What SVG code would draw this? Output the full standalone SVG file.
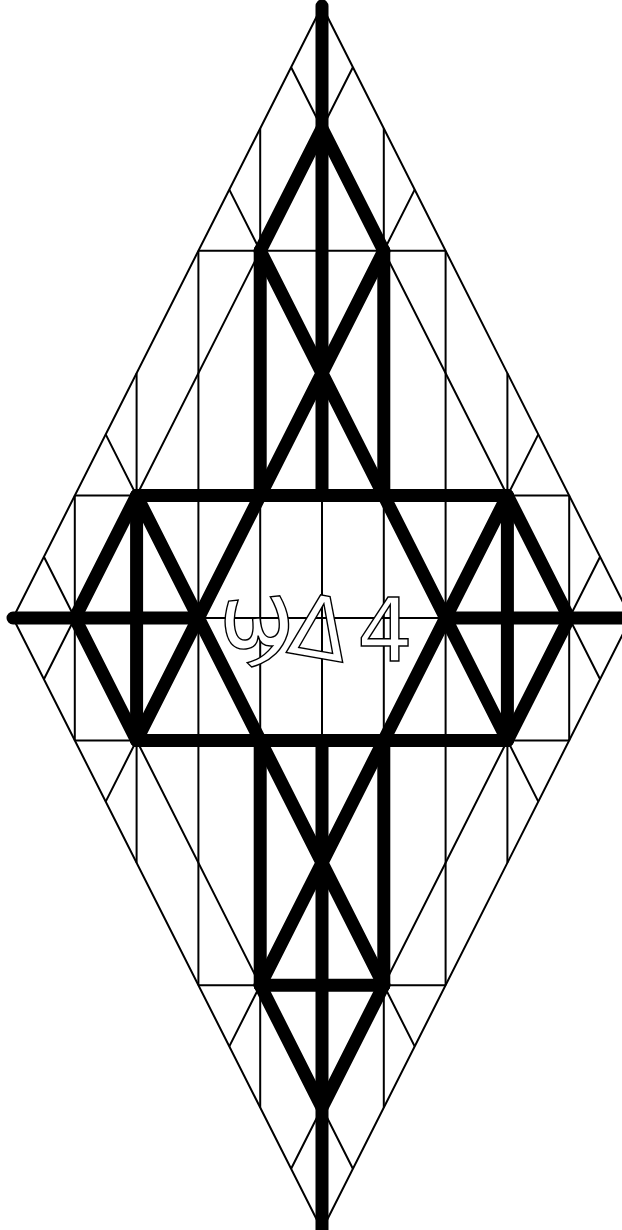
<svg xmlns="http://www.w3.org/2000/svg" width="622" height="1230" viewBox="0 0 622 1230">
<style>
.thin{fill:none;stroke:#000;stroke-width:2}
.thick{fill:none;stroke:#000;stroke-width:13;stroke-linecap:round;stroke-linejoin:round}
.lbl{fill:#fff;stroke:#000;stroke-width:1.4;font-family:"DejaVu Sans","Noto Sans",sans-serif}
</style>
<rect width="622" height="1230" fill="#fff"/>
<g id="thin-lattice">
<path class="thin" d="M322,6 L631,618 L322,1230 L13,618 Z"/>
<path class="thin" d="M260.2,128.4 V1107.6 M383.8,128.4 V1107.6 M198.4,250.8 V985.2 M445.6,250.8 V985.2 M136.6,373.2 V862.8 M507.4,373.2 V862.8 M74.8,495.6 V740.4 M569.2,495.6 V740.4 M322,6 V1230"/>
<path class="thin" d="M13,618 H631 M74.8,495.6 H569.2 M74.8,740.4 H569.2 M198.4,250.8 H445.6 M198.4,985.2 H445.6"/>
<path class="thin" d="M352.9,67.2 L43.9,679.2 M291.1,67.2 L600.1,679.2 M291.1,1168.8 L600.1,556.8 M352.9,1168.8 L43.9,556.8 M414.7,189.6 L105.7,801.6 M229.3,189.6 L538.3,801.6 M229.3,1046.4 L538.3,434.4 M414.7,1046.4 L105.7,434.4"/>
</g>
<g id="thick-star">
<path class="thick" d="M322,6 V495.6 M322,740.4 V1230 M13,618 H198.4 M445.6,618 H631 M136.6,495.6 H507.4 M136.6,740.4 H507.4 M260.2,985.2 H383.8"/>
<path class="thick" d="M260.2,250.8 V495.6 M383.8,250.8 V495.6 M260.2,740.4 V985.2 M383.8,740.4 V985.2 M136.6,495.6 V740.4 M507.4,495.6 V740.4"/>
<path class="thick" d="M260.2,250.8 L322,128.4 L383.8,250.8 M260.2,985.2 L322,1107.6 L383.8,985.2 M136.6,495.6 L74.8,618 L136.6,740.4 M507.4,495.6 L569.2,618 L507.4,740.4"/>
<path class="thick" d="M383.8,250.8 L136.6,740.4 M260.2,250.8 L507.4,740.4 M260.2,985.2 L507.4,495.6 M383.8,985.2 L136.6,495.6"/>
</g>
<g id="label">
<text class="lbl" x="220" y="648" font-size="90" transform="rotate(-6 252 630)">ϣ</text>
<text class="lbl" x="290" y="658" font-size="86" transform="rotate(10 320 630)">Δ</text>
<text class="lbl" x="357" y="661" font-size="88">4</text>
</g>
</svg>
